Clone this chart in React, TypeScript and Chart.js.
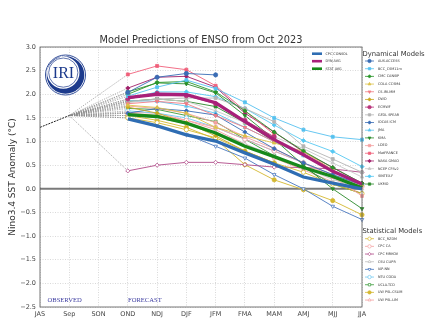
import React, { useEffect, useRef } from 'react';
import { Chart, registerables } from 'chart.js';
import { drawPoint } from 'chart.js/helpers';

Chart.register(...registerables);

const FONT = '"DejaVu Sans", sans-serif';
const SERIF = '"Liberation Serif", "DejaVu Serif", serif';

// ---------- data ----------
const seasons = ['JAS', 'Sep', 'SON', 'OND', 'NDJ', 'DJF', 'JFM', 'FMA', 'MAM', 'AMJ', 'MJJ', 'JJA'];
const observedValues = [1.3, 1.55];

// forecasts OND .. JJA
const cpcConsol = [1.48, 1.33, 1.14, 1.01, 0.76, 0.52, 0.25, 0.12, 0.0];
const dynAvg = [1.93, 2.0, 1.99, 1.82, 1.42, 1.04, 0.72, 0.37, 0.1];
const statAvg = [1.57, 1.53, 1.39, 1.18, 0.9, 0.68, 0.45, 0.26, 0.02];

// dynamical models
const ausAccess = [2.04, 2.36, 2.44, 2.41, null, null, null, null, null];
const bccCsm = [1.96, 2.15, 2.3, 2.12, 1.83, 1.5, 1.25, 1.1, 1.04];
const cmcCansip = [2.0, 2.25, 2.27, 2.05, 1.65, 1.2, 0.8, 0.45, 0.12];
const colaCcsm4 = [1.77, 1.72, 1.6, 1.3, 1.12, 0.97, 0.79, 0.4, 0.08];
const csIriMm = [1.8, 1.85, 1.8, 1.55, 1.3, 1.0, null, null, null];
const dwd = [1.73, 1.6, 1.4, 1.12, 0.8, 0.55, null, null, null];
const ecmwf = [1.9, 2.02, 1.97, 1.8, 1.45, 1.1, null, null, null];
const gfdlSpear = [1.85, 1.9, 1.92, 1.92, 1.7, 1.42, 0.9, 0.63, 0.35];
const iocasIcm = [1.6, 1.7, 1.65, 1.56, 1.2, 0.85, 0.55, 0.3, 0.08];
const jma = [1.87, 1.85, 1.75, 1.6, 1.3, 1.0, 0.7, null, null];
const kma = [2.05, 2.24, 2.22, 2.03, 1.55, 1.05, 0.5, 0.0, -0.42];
const ldeo = [1.75, 1.7, 1.6, 1.4, 1.1, 0.85, 0.55, 0.25, -0.15];
const metFrance = [2.42, 2.6, 2.52, 2.18, 1.65, 1.15, null, null, null];
const nasaGmao = [2.13, 2.36, 2.38, 2.15, 1.6, 1.2, 0.78, 0.45, 0.12];
const ncepCfsv2 = [1.82, 1.9, 1.85, 1.65, 1.4, 1.1, 0.85, 0.55, 0.25];
const sintexF = [1.9, 2.05, 2.05, 1.95, 1.7, 1.35, 1.02, 0.79, 0.47];
const ukmo = [1.85, 1.9, 1.85, 1.74, 1.4, 1.0, null, null, null];

// statistical models
const bccRzdm = [1.5, 1.4, 1.25, 1.08, 0.8, 0.55, 0.35, 0.1, -0.1];
const cpcCa = [1.6, 1.55, 1.45, 1.3, 1.05, 0.8, 0.55, 0.3, 0.05];
const cpcMrkov = [0.38, 0.5, 0.56, 0.56, 0.51, 0.46, 0.45, 0.42, 0.35];
const csuClipr = [1.55, 1.5, 1.38, 1.2, 0.95, 0.7, 0.45, 0.2, 0.0];
const iapNn = [1.5, 1.33, 1.15, 0.9, 0.65, 0.3, 0.0, -0.37, -0.65];
const ntuCoda = [1.65, 1.6, 1.5, 1.3, 1.05, 0.8, 0.55, 0.3, 0.1];
const uclaTcd = [1.7, 1.68, 1.55, 1.42, 1.05, 0.7, 0.45, 0.1, -0.1];
const uwPslCslim = [1.55, 1.45, 1.3, 1.05, 0.51, 0.19, -0.02, -0.25, -0.55];
const uwPslLim = [1.62, 1.6, 1.45, 1.25, 0.95, 0.65, 0.4, 0.15, -0.1];

type Model = { name: string; data: (number | null)[]; color: string; style: string; rot?: number; open?: boolean };

const dynamicalModels: Model[] = [
  { name: 'AUS-ACCESS', data: ausAccess, color: '#3a6db5', style: 'circle' },
  { name: 'BCC_CSM11m', data: bccCsm, color: '#56c1ef', style: 'rect' },
  { name: 'CMC CANSIP', data: cmcCansip, color: '#2a962a', style: 'rectRot' },
  { name: 'COLA CCSM4', data: colaCcsm4, color: '#dcc24a', style: 'triangle' },
  { name: 'CS-IRI-MM', data: csIriMm, color: '#f07c84', style: 'triangle', rot: 180 },
  { name: 'DWD', data: dwd, color: '#c8a820', style: 'rectRot' },
  { name: 'ECMWF', data: ecmwf, color: '#b8337a', style: 'circle' },
  { name: 'GFDL SPEAR', data: gfdlSpear, color: '#b4b4b4', style: 'rect' },
  { name: 'IOCAS ICM', data: iocasIcm, color: '#3a6db5', style: 'rectRot' },
  { name: 'JMA', data: jma, color: '#5ec4ee', style: 'triangle' },
  { name: 'KMA', data: kma, color: '#2a8a2a', style: 'triangle', rot: 180 },
  { name: 'LDEO', data: ldeo, color: '#f4a0a0', style: 'rect' },
  { name: 'MetFRANCE', data: metFrance, color: '#f0607a', style: 'rect' },
  { name: 'NASA GMAO', data: nasaGmao, color: '#a0206a', style: 'rectRot' },
  { name: 'NCEP CFSv2', data: ncepCfsv2, color: '#c8c8c8', style: 'triangle' },
  { name: 'SINTEX-F', data: sintexF, color: '#56c8f2', style: 'rectRot' },
  { name: 'UKMO', data: ukmo, color: '#2a8a2a', style: 'rect' },
];

const statisticalModels: Model[] = [
  { name: 'BCC_RZDM', data: bccRzdm, color: '#d4b830', style: 'circle', open: true },
  { name: 'CPC CA', data: cpcCa, color: '#f4a0a0', style: 'circle', open: true },
  { name: 'CPC MRKOV', data: cpcMrkov, color: '#b04a88', style: 'rectRot', open: true },
  { name: 'CSU CLIPR', data: csuClipr, color: '#c0c0c0', style: 'triangle', open: true },
  { name: 'IAP-NN', data: iapNn, color: '#4a78c0', style: 'triangle', rot: 180, open: true },
  { name: 'NTU CODA', data: ntuCoda, color: '#70c8f0', style: 'circle', open: true },
  { name: 'UCLA-TCD', data: uclaTcd, color: '#3a9a3a', style: 'rect', open: true },
  { name: 'UW PSL-CSLIM', data: uwPslCslim, color: '#d4b830', style: 'circle' },
  { name: 'UW PSL-LIM', data: uwPslLim, color: '#f4a0a0', style: 'triangle', open: true },
];

const averages = [
  { name: 'CPC CONSOL', data: cpcConsol, color: '#2f6db3' },
  { name: 'DYN AVG', data: dynAvg, color: '#a8207a' },
  { name: 'STAT AVG', data: statAvg, color: '#16891a' },
];

const pad = (v: (number | null)[]) => [null, null, null, ...v];

function legendMarker(ctx: CanvasRenderingContext2D, m: Model, x: number, y: number, r: number) {
  ctx.save();
  ctx.fillStyle = m.open ? '#ffffff' : m.color;
  ctx.strokeStyle = m.color;
  ctx.lineWidth = 0.7;
  drawPoint(ctx, { pointStyle: m.style as any, rotation: m.rot || 0, radius: r, borderWidth: 0.7 } as any, x, y);
  ctx.restore();
}

const extras = {
  id: 'extras',
  beforeDatasetsDraw(chart: any) {
    const { ctx, chartArea, scales } = chart;
    const y0 = scales.y.getPixelForValue(0);
    ctx.save();
    ctx.strokeStyle = '#7a7a7a';
    ctx.lineWidth = 2;
    ctx.beginPath();
    ctx.moveTo(chartArea.left, y0);
    ctx.lineTo(chartArea.right, y0);
    ctx.stroke();
    ctx.restore();
  },
  afterDatasetsDraw(chart: any) {
    const { ctx, chartArea } = chart;
    ctx.save();
    ctx.strokeStyle = '#555';
    ctx.lineWidth = 0.8;
    ctx.strokeRect(chartArea.left, chartArea.top, chartArea.right - chartArea.left, chartArea.bottom - chartArea.top);
    ctx.restore();
  },
  afterDraw(chart: any) {
    const { ctx, chartArea } = chart;
    ctx.save();
    // title
    const title = 'Model Predictions of ENSO from Oct 2023';
    ctx.font = `10px ${FONT}`;
    const w10 = ctx.measureText(title).width;
    const ts = (10 * 203) / w10;
    ctx.font = `${ts}px ${FONT}`;
    ctx.fillStyle = '#333';
    ctx.textAlign = 'center';
    ctx.textBaseline = 'middle';
    ctx.fillText(title, (chartArea.left + chartArea.right) / 2, 40.5);

    // y label
    ctx.save();
    ctx.translate(12.5, (chartArea.top + chartArea.bottom) / 2);
    ctx.rotate(-Math.PI / 2);
    ctx.font = `9px ${FONT}`;
    ctx.fillStyle = '#333';
    ctx.fillText('Nino3.4 SST Anomaly (\u00b0C)', 0, 0);
    ctx.restore();

    // OBSERVED / FORECAST
    ctx.font = `6.6px ${SERIF}`;
    ctx.fillStyle = '#3c3ca0';
    ctx.textAlign = 'left';
    ctx.fillText('OBSERVED', 47.5, 300);
    ctx.fillText('FORECAST', 128, 300);

    // IRI logo
    const cx = 65.5, cy = 75;
    ctx.fillStyle = '#ffffff';
    ctx.beginPath();
    ctx.arc(cx, cy, 20.5, 0, Math.PI * 2);
    ctx.fill();
    ctx.strokeStyle = '#1c3a8c';
    ctx.fillStyle = '#1c3a8c';
    ctx.lineWidth = 0.9;
    ctx.beginPath();
    ctx.arc(cx, cy, 20, 0, Math.PI * 2);
    ctx.stroke();
    ctx.beginPath();
    ctx.arc(cx, cy, 18.8, 0, Math.PI * 2);
    ctx.arc(cx - 2.2, cy - 2.4, 16.2, 0, Math.PI * 2, true);
    ctx.fill('evenodd');
    ctx.beginPath();
    ctx.arc(cx - 2.2, cy - 2.4, 14.6, 0, Math.PI * 2);
    ctx.lineWidth = 0.7;
    ctx.stroke();
    ctx.font = `16px ${SERIF}`;
    ctx.textAlign = 'center';
    ctx.textBaseline = 'middle';
    ctx.fillText('IRI', cx - 2, cy - 1.5);

    // inner legend (averages)
    ctx.textAlign = 'left';
    ctx.font = `3.4px ${FONT}`;
    averages.forEach((a, i) => {
      const y = 53.7 + i * 7.5;
      ctx.strokeStyle = a.color;
      ctx.lineWidth = 2.6;
      ctx.beginPath();
      ctx.moveTo(312, y);
      ctx.lineTo(322, y);
      ctx.stroke();
      ctx.fillStyle = '#333';
      ctx.fillText(a.name, 325.5, y);
    });

    // outer legends
    const drawGroup = (title: string, list: Model[], ty: number, y0: number, step: number) => {
      ctx.font = `6.8px ${FONT}`;
      ctx.fillStyle = '#333';
      ctx.fillText(title, 362.5, ty);
      list.forEach((m, i) => {
        const y = y0 + i * step;
        ctx.strokeStyle = m.color;
        ctx.lineWidth = 0.8;
        ctx.beginPath();
        ctx.moveTo(365, y);
        ctx.lineTo(374, y);
        ctx.stroke();
        legendMarker(ctx, m, 369.5, y, 1.7);
        ctx.font = `3.4px ${FONT}`;
        ctx.fillStyle = '#333';
        ctx.fillText(m.name, 378, y);
      });
    };
    drawGroup('Dynamical Models', dynamicalModels, 54, 61, 7.69);
    drawGroup('Statistical Models', statisticalModels, 231.7, 238.7, 7.67);
    ctx.restore();
  },
};

export default function App() {
  const ref = useRef<HTMLCanvasElement>(null);
  useEffect(() => {
    document.body.style.margin = '0';
    const canvas = ref.current!;
    const allModels = [...dynamicalModels, ...statisticalModels];
    const datasets: any[] = [];
    averages.forEach((a) => {
      datasets.push({
        label: a.name,
        data: pad(a.data),
        borderColor: a.color,
        borderWidth: 3.3,
        pointRadius: 0,
      });
    });
    allModels.forEach((m) => {
      datasets.push({
        label: m.name,
        data: pad(m.data),
        borderColor: m.color,
        borderWidth: 0.9,
        pointStyle: m.style,
        pointRotation: m.rot || 0,
        pointRadius: 2.1,
        pointBackgroundColor: m.open ? '#ffffff' : m.color,
        pointBorderColor: m.color,
        pointBorderWidth: 0.8,
      });
    });
    datasets.push({
      label: 'Observed',
      data: [...observedValues],
      borderColor: '#222',
      borderWidth: 1,
      borderDash: [2, 1],
      pointRadius: 0,
    });
    allModels.forEach((m) => {
      datasets.push({
        label: m.name + ' link',
        data: [null, observedValues[1], null, m.data[0]],
        borderColor: '#8a8a8a',
        borderWidth: 0.7,
        borderDash: [1.2, 1.2],
        pointRadius: 0,
        spanGaps: true,
      });
    });

    const chart = new Chart(canvas, {
      type: 'line',
      data: { labels: seasons, datasets },
      options: {
        animation: false,
        responsive: false,
        maintainAspectRatio: false,
        layout: { padding: { top: 47, right: 65, left: 0, bottom: 0 } },
        plugins: { legend: { display: false }, title: { display: false }, tooltip: { enabled: false } },
        scales: {
          x: {
            type: 'category',
            offset: false,
            grid: { color: '#c8c8c8', lineWidth: 0.7, drawTicks: false },
            border: { display: false, dash: [1, 1.5] },
            ticks: { font: { family: FONT, size: 6.5 }, color: '#444', padding: 3, maxRotation: 0, autoSkip: false },
            afterFit: (s: any) => { s.height = 25; },
          },
          y: {
            min: -2.5,
            max: 3,
            grid: { color: '#c8c8c8', lineWidth: 0.7, drawTicks: false },
            border: { display: false, dash: [1, 1.5] },
            ticks: {
              stepSize: 0.5,
              font: { family: FONT, size: 6.5 },
              color: '#444',
              padding: 4,
              callback: (v: any) => (Number(v) < 0 ? '\u2212' + Math.abs(Number(v)).toFixed(1) : Number(v).toFixed(1)),
            },
            afterFit: (s: any) => { s.width = 40; },
          },
        },
      },
      plugins: [extras],
    });
    return () => chart.destroy();
  }, []);
  return (
    <div style={{ width: 427, height: 332 }}>
      <canvas ref={ref} width={427} height={332} style={{ display: 'block', width: 427, height: 332 }} />
    </div>
  );
}
